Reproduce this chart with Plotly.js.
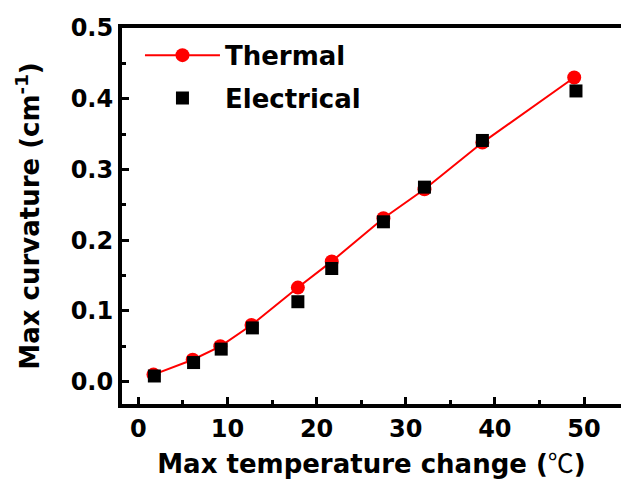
<!DOCTYPE html>
<html>
<head>
<meta charset="utf-8">
<script src="https://cdn.plot.ly/plotly-3.0.1.min.js"></script>
<style>html,body{margin:0;padding:0;background:#fff;}#chart{width:621px;height:486px;}</style>
</head>
<body>
<div id="chart"></div>
<script>
var thermalTemp = [1.7, 6.1, 9.2, 12.7, 17.9, 21.7, 27.5, 32.1, 38.6, 48.9];
var thermalCurv = [0.010, 0.031, 0.050, 0.080, 0.133, 0.170, 0.231, 0.272, 0.338, 0.430];
var elecTemp = [1.8, 6.2, 9.3, 12.8, 17.9, 21.7, 27.5, 32.1, 38.6, 49.1];
var elecCurv = [0.008, 0.027, 0.046, 0.076, 0.113, 0.160, 0.226, 0.275, 0.341, 0.411];
var seriesNames = ['Thermal', 'Electrical'];
var xTitle = 'Max temperature change (<span style="font-family:\'Noto Sans CJK SC\';font-weight:normal">℃</span>)';
var yTitle = 'Max curvature (cm<sup>-1</sup>)';

var F = 'DejaVu Sans';
var traces = [
  {x: thermalTemp, y: thermalCurv, name: seriesNames[0], legendgroup: 'a', type: 'scatter', mode: 'lines+markers',
   line: {color: '#ff0000', width: 2}, marker: {symbol: 'circle', size: 14, color: '#ff0000'}},
  {x: elecTemp, y: elecCurv, name: seriesNames[1], legendgroup: 'b', type: 'scatter', mode: 'markers',
   marker: {symbol: 'square', size: 13, color: '#000000'}}
];
var layout = {
  width: 621, height: 486,
  margin: {l: 122, r: 0, t: 28, b: 82},
  paper_bgcolor: '#fff', plot_bgcolor: '#fff',
  font: {family: F, weight: 'bold', color: '#000', size: 24},
  showlegend: true,
  legend: {x: 0.036, y: 0.99, xanchor: 'left', yanchor: 'top', bgcolor: 'rgba(0,0,0,0)',
           font: {family: F, weight: 'bold', size: 26, color: '#000'}, itemwidth: 75,
           traceorder: 'grouped', tracegroupgap: 6},
  xaxis: {
    range: [-1.83, 54.15], showgrid: false, zeroline: false,
    showline: true, linecolor: '#000', linewidth: 4, mirror: true,
    ticks: 'inside', ticklen: 7, tickwidth: 3, tickcolor: '#000',
    dtick: 10, tick0: 0,
    minor: {ticks: 'inside', ticklen: 4, tickwidth: 3, tickcolor: '#000', dtick: 5, showgrid: false},
    tickfont: {family: F, weight: 'bold', size: 24},
    title: {text: xTitle, font: {family: F, weight: 'bold', size: 26}, standoff: 13}
  },
  yaxis: {
    range: [-0.0316, 0.5], showgrid: false, zeroline: false,
    showline: true, linecolor: '#000', linewidth: 4, mirror: false,
    ticks: 'inside', ticklen: 7, tickwidth: 3, tickcolor: '#000',
    dtick: 0.1, tick0: 0, tickformat: '.1f',
    minor: {ticks: 'inside', ticklen: 4, tickwidth: 3, tickcolor: '#000', dtick: 0.05, showgrid: false},
    tickfont: {family: F, weight: 'bold', size: 24},
    title: {text: yTitle, font: {family: F, weight: 'bold', size: 26}, standoff: 25}
  }
};
Plotly.newPlot('chart', traces, layout, {displayModeBar: false, staticPlot: true});
</script>
</body>
</html>
